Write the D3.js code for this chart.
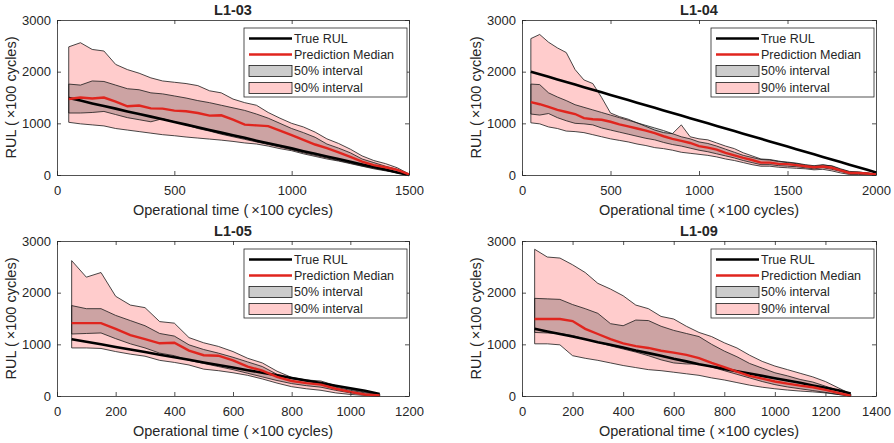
<!DOCTYPE html>
<html>
<head>
<meta charset="utf-8">
<script src="https://cdn.jsdelivr.net/npm/d3@7"></script>
<style>
  body { margin: 0; background: #fff; }
  text { font-family: "Liberation Sans", Arial, sans-serif; fill: #262626; }
</style>
</head>
<body>
<svg id="mainsvg" width="894" height="443"></svg>
<script>
// ---- data (x100 cycles) ----
const time03 = [50,100,150,200,250,300,350,400,450,500,550,600,650,700,750,800,850,900,950,1000,1050,1100,1150,1200,1250,1300,1350,1400,1450,1500];
const true03 = [1490,1440,1385,1335,1285,1230,1180,1130,1080,1025,975,925,870,820,770,720,665,615,565,515,460,410,360,310,255,205,155,105,50,0];
const med03  = [1470,1500,1480,1500,1420,1330,1345,1290,1285,1245,1235,1200,1150,1155,1070,975,960,945,860,770,680,590,520,440,350,260,190,150,100,10];
const q05_03 = [1020,990,970,950,900,870,840,810,780,760,735,715,695,675,650,620,600,560,510,470,410,360,310,270,220,170,120,80,40,5];
const q25_03 = [1200,1200,1210,1230,1170,1110,1070,1030,1090,1030,970,900,850,790,740,690,640,590,540,490,430,380,330,280,230,175,130,90,45,5];
const q75_03 = [1760,1740,1820,1810,1740,1670,1650,1590,1570,1530,1490,1440,1400,1350,1300,1250,1180,1100,1000,900,820,730,600,520,430,310,240,170,110,15];
const q95_03 = [2480,2560,2430,2400,2140,2040,1970,1880,1820,1795,1770,1730,1630,1590,1470,1400,1350,1210,1100,1000,930,830,700,610,500,370,280,220,140,20];

const time04 = [50,100,150,200,250,300,350,400,450,500,550,600,650,700,750,800,850,900,950,1000,1050,1100,1150,1200,1250,1300,1350,1400,1450,1500,1550,1600,1650,1700,1750,1800,1850,1900,1950,2000];
const true04 = [2000,1950,1900,1850,1800,1750,1700,1650,1600,1550,1500,1450,1400,1350,1300,1250,1200,1150,1100,1050,1000,950,900,850,800,750,700,650,600,550,500,450,400,350,300,250,200,150,100,50];
const med04  = [1410,1370,1320,1260,1220,1180,1100,1080,1070,1030,980,940,900,860,810,750,700,660,620,560,530,490,430,380,330,290,240,240,215,210,190,170,150,165,140,90,40,40,30,10];
const q05_04 = [1010,990,930,900,850,840,820,780,740,700,670,640,600,570,530,510,480,440,420,400,380,350,310,280,240,200,170,170,150,140,130,120,100,110,80,40,10,10,5,0];
const q25_04 = [1180,1160,1190,1110,1050,1000,990,970,910,870,830,790,750,710,680,630,590,560,520,480,450,410,370,330,280,240,200,200,180,170,160,140,120,140,110,70,25,25,20,5];
const q75_04 = [1760,1750,1590,1510,1440,1360,1310,1260,1210,1160,1110,1060,1010,960,910,860,800,740,700,640,610,560,500,440,380,340,300,290,260,250,230,200,180,200,170,110,60,55,40,15];
const q95_04 = [2640,2720,2570,2460,2370,2040,1840,1770,1500,1200,1130,1080,1010,940,870,820,800,970,740,700,680,620,560,510,430,370,310,300,270,240,220,190,170,190,180,120,70,60,40,15];

const time05 = [50,100,150,200,250,300,350,400,450,500,550,600,650,700,750,800,850,900,950,1000,1050,1100];
const true05 = [1100,1050,1000,950,900,850,800,750,700,650,600,550,500,450,400,350,300,250,200,150,100,40];
const med05  = [1410,1410,1410,1300,1180,1100,1020,1030,880,790,780,690,570,490,370,290,250,220,140,80,30,10];
const q05_05 = [930,930,920,860,810,770,690,650,600,520,490,450,400,330,250,180,140,110,60,30,10,0];
const q25_05 = [1200,1210,1220,1110,1010,930,830,780,690,630,570,510,440,370,300,240,200,170,110,60,25,5];
const q75_05 = [1750,1690,1690,1560,1460,1360,1210,1160,990,900,830,750,660,570,420,340,290,250,170,110,60,30];
const q95_05 = [2620,2300,2390,1930,1760,1710,1440,1410,1130,1030,960,860,730,640,480,360,310,290,200,130,75,40];

const time09 = [50,100,150,200,250,300,350,400,450,500,550,600,650,700,750,800,850,900,950,1000,1050,1100,1150,1200,1250,1300];
const true09 = [1300,1250,1200,1150,1100,1040,990,940,880,830,780,720,670,615,570,525,480,435,390,345,300,255,205,160,110,50];
const med09  = [1490,1490,1490,1450,1300,1200,1100,1020,965,930,875,840,795,735,640,560,470,390,335,280,240,200,170,120,60,5];
const q05_09 = [1010,1010,990,780,730,690,640,590,550,510,490,460,430,400,350,310,260,210,170,140,115,95,80,60,30,0];
const q25_09 = [1230,1220,1210,1170,1100,1040,970,910,850,780,700,640,620,620,560,490,420,350,280,220,175,140,105,70,30,0];
const q75_09 = [1890,1880,1870,1770,1690,1600,1400,1360,1470,1460,1350,1270,1210,1150,1000,870,760,630,540,450,390,320,270,190,110,30];
const q95_09 = [2840,2690,2670,2540,2390,2180,2070,1940,1760,1690,1540,1490,1350,1230,1150,1030,930,790,670,580,510,440,370,280,160,40];

const yTicks = [0, 1000, 2000, 3000];
const legendLabels = ['True RUL', 'Prediction Median', '50% interval', '90% interval'];

const panels = [
  { title: 'L1-03', time: time03, truth: true03, med: med03, q05: q05_03, q25: q25_03, q75: q75_03, q95: q95_03,
    xMax: 1500, xTicks: [0, 500, 1000, 1500], left: 57, top: 20, width: 352 },
  { title: 'L1-04', time: time04, truth: true04, med: med04, q05: q05_04, q25: q25_04, q75: q75_04, q95: q95_04,
    xMax: 2000, xTicks: [0, 500, 1000, 1500, 2000], left: 522, top: 20, width: 354 },
  { title: 'L1-05', time: time05, truth: true05, med: med05, q05: q05_05, q25: q25_05, q75: q75_05, q95: q95_05,
    xMax: 1200, xTicks: [0, 200, 400, 600, 800, 1000, 1200], left: 57, top: 241, width: 352 },
  { title: 'L1-09', time: time09, truth: true09, med: med09, q05: q05_09, q25: q25_09, q75: q75_09, q95: q95_09,
    xMax: 1400, xTicks: [0, 200, 400, 600, 800, 1000, 1200, 1400], left: 522, top: 241, width: 354 }
];

const svg = d3.select('#mainsvg');
const height = 155;
const pink = 'rgb(255,204,204)';
const grey = '#000';
const greyAlpha = 0.2;
const red = '#e0251e';
const edge = '#1a1a1a';
const axisColor = '#262626';
const fmt = d3.format('d');

const render = function (p) {
  const g = svg.append('g').attr('transform', `translate(${p.left},${p.top})`);
  const x = d3.scaleLinear().domain([0, p.xMax]).range([0, p.width]);
  const y = d3.scaleLinear().domain([0, 3000]).range([height, 0]);
  const rows = p.time.map((t, i) => ({
    t, truth: p.truth[i], med: p.med[i], q05: p.q05[i], q25: p.q25[i], q75: p.q75[i], q95: p.q95[i]
  }));

  const band = (lo, hi) => d3.area().x(d => x(d.t)).y0(d => y(d[lo])).y1(d => y(d[hi]));
  const line = key => d3.line().x(d => x(d.t)).y(d => y(d[key]));

  g.append('path').datum(rows).attr('d', band('q05', 'q95'))
    .attr('fill', pink).attr('stroke', edge).attr('stroke-width', 0.8);
  g.append('path').datum(rows).attr('d', band('q25', 'q75'))
    .attr('fill', grey).attr('fill-opacity', greyAlpha).attr('stroke', edge).attr('stroke-width', 0.8);
  g.append('path').datum(rows).attr('d', line('truth'))
    .attr('fill', 'none').attr('stroke', '#000').attr('stroke-width', 2.6);
  g.append('path').datum(rows).attr('d', line('med'))
    .attr('fill', 'none').attr('stroke', red).attr('stroke-width', 2.4);

  // axes, MATLAB style box with inward ticks
  const bottom = g.append('g').attr('transform', `translate(0,${height})`)
    .call(d3.axisBottom(x).tickValues(p.xTicks).tickFormat(fmt).tickSizeInner(-4).tickSizeOuter(0).tickPadding(11));
  const top = g.append('g')
    .call(d3.axisTop(x).tickValues(p.xTicks).tickSizeInner(-4).tickSizeOuter(0).tickFormat(''));
  const left = g.append('g')
    .call(d3.axisLeft(y).tickValues(yTicks).tickFormat(fmt).tickSizeInner(-4).tickSizeOuter(0).tickPadding(6));
  const right = g.append('g').attr('transform', `translate(${p.width},0)`)
    .call(d3.axisRight(y).tickValues(yTicks).tickSizeInner(-4).tickSizeOuter(0).tickFormat(''));
  [bottom, top, left, right].forEach(a => {
    a.selectAll('path, line').attr('stroke', axisColor).attr('stroke-width', 0.8);
    a.selectAll('text').attr('font-size', 13).attr('fill', axisColor)
      .attr('font-family', '"Liberation Sans", Arial, sans-serif');
  });

  g.append('text').attr('x', p.width / 2).attr('y', -5).attr('text-anchor', 'middle')
    .attr('font-size', 14.5).attr('font-weight', 'bold').attr('fill', '#000').text(p.title);
  g.append('text').attr('x', p.width / 2).attr('y', height + 40).attr('text-anchor', 'middle')
    .attr('font-size', 14.5).text('Operational time (\u2009\u00D7100 cycles)');
  g.append('text').attr('transform', `translate(-41,${height / 2}) rotate(-90)`).attr('text-anchor', 'middle')
    .attr('font-size', 14.5).text('RUL (\u2009\u00D7100 cycles)');

  // legend
  const lw = 163, lh = 69;
  const lg = g.append('g').attr('transform', `translate(${p.width - 2 - lw},8)`);
  lg.append('rect').attr('width', lw).attr('height', lh)
    .attr('fill', '#fff').attr('stroke', axisColor).attr('stroke-width', 0.8);
  const rowY = [10.5, 26.5, 43, 60];
  lg.selectAll('.legtext').data(legendLabels).join('text').attr('class', 'legtext')
    .attr('x', 50).attr('y', (d, i) => rowY[i]).attr('dy', '0.35em')
    .attr('font-size', 12.5).attr('fill', '#000').text(d => d);
  lg.append('line').attr('x1', 5).attr('x2', 48).attr('y1', rowY[0]).attr('y2', rowY[0])
    .attr('stroke', '#000').attr('stroke-width', 2.6);
  lg.append('line').attr('x1', 5).attr('x2', 48).attr('y1', rowY[1]).attr('y2', rowY[1])
    .attr('stroke', red).attr('stroke-width', 2.4);
  lg.append('rect').attr('x', 5).attr('y', rowY[2] - 5.5).attr('width', 43).attr('height', 11)
    .attr('fill', grey).attr('fill-opacity', greyAlpha).attr('stroke', edge).attr('stroke-width', 0.8);
  lg.append('rect').attr('x', 5).attr('y', rowY[3] - 5.5).attr('width', 43).attr('height', 11)
    .attr('fill', pink).attr('stroke', edge).attr('stroke-width', 0.8);
};

panels.forEach(render);
</script>
</body>
</html>
